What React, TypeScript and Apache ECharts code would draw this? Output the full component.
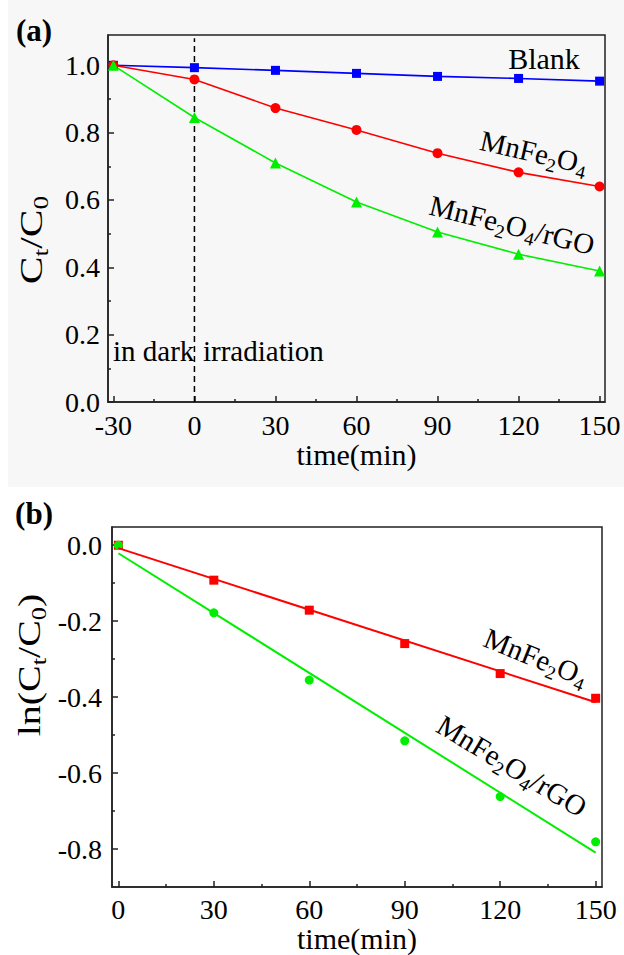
import React, { useEffect, useRef } from 'react';
import * as echarts from 'echarts';

const SERIF = 'Liberation Serif';

// (a) normalised concentration: 30 min in the dark, then under irradiation
const timeA = [-30, 0, 30, 60, 90, 120, 150];
const blankA = [1.0, 0.993, 0.985, 0.976, 0.967, 0.961, 0.953];
const mnfeA = [1.0, 0.958, 0.873, 0.808, 0.739, 0.682, 0.64];
const rgoA = [1.0, 0.845, 0.71, 0.594, 0.505, 0.439, 0.389];

// (b) pseudo-first-order kinetics, ln(Ct/C0) against irradiation time
const timeB = [0, 30, 60, 90, 120, 150];
const lnMnfeB = [0, -0.092, -0.171, -0.259, -0.338, -0.403];
const lnRgoB = [0, -0.178, -0.355, -0.515, -0.662, -0.781];

// tick positions
const ticksXA = [-30, 0, 30, 60, 90, 120, 150];
const minorXA = [-15, 15, 45, 75, 105, 135];
const ticksYA = [0, 0.2, 0.4, 0.6, 0.8, 1.0];
const minorYA = [0.1, 0.3, 0.5, 0.7, 0.9];
const ticksXB = [0, 30, 60, 90, 120, 150];
const minorXB = [15, 45, 75, 105, 135];
const ticksYB = [-0.8, -0.6, -0.4, -0.2, 0];
const minorYB = [-0.7, -0.5, -0.3, -0.1];

const BLUE = '#0000ff';
const RED = '#ff0000';
const GREEN = '#00ee00';
const AXIS = '#222';

// least-squares straight line through the points, spanning the first to last x
function linearFit(xs: number[], ys: number[]): number[][] {
  const n = xs.length;
  const mx = xs.reduce((a, b) => a + b, 0) / n;
  const my = ys.reduce((a, b) => a + b, 0) / n;
  let sxy = 0;
  let sxx = 0;
  for (let i = 0; i < n; i++) {
    sxy += (xs[i] - mx) * (ys[i] - my);
    sxx += (xs[i] - mx) * (xs[i] - mx);
  }
  const slope = sxy / sxx;
  const icpt = my - slope * mx;
  const x0 = xs[0];
  const x1 = xs[n - 1];
  return [
    [x0, icpt + slope * x0],
    [x1, icpt + slope * x1],
  ];
}

const pairs = (xs: number[], ys: number[]) => xs.map((x, i) => [x, ys[i]]);

function majorAxis(
  gridIndex: number,
  min: number,
  max: number,
  ticks: number[],
  fmt: (v: number) => string,
  margin: number,
  position: string,
  extra: any = {}
) {
  return {
    type: 'value',
    gridIndex,
    min,
    max,
    position,
    axisLine: { show: true, onZero: false, lineStyle: { color: AXIS, width: 1.5 } },
    axisTick: {
      show: true,
      inside: true,
      length: 6,
      customValues: ticks,
      lineStyle: { color: AXIS, width: 1.5 },
    },
    axisLabel: {
      show: true,
      customValues: ticks,
      formatter: fmt,
      margin,
      color: '#000',
      fontSize: 28,
      fontFamily: SERIF,
    },
    splitLine: { show: false },
    ...extra,
  };
}

function minorAxis(gridIndex: number, min: number, max: number, ticks: number[], position: string) {
  return {
    type: 'value',
    gridIndex,
    min,
    max,
    position,
    axisLine: { show: false, onZero: false },
    axisTick: {
      show: true,
      inside: true,
      length: 3,
      customValues: ticks,
      lineStyle: { color: AXIS, width: 1.5 },
    },
    axisLabel: { show: false },
    splitLine: { show: false },
  };
}

const intFmt = (v: number) => String(Math.round(v));
const decFmt = (v: number) => v.toFixed(1);

const mainRich = (size: number) => ({
  m: { fontSize: size, fontFamily: SERIF, fontWeight: 'normal', lineHeight: size + 1, color: '#000' },
  s: {
    fontSize: Math.round(size * 0.65),
    fontFamily: SERIF,
    fontWeight: 'normal',
    lineHeight: Math.round(size * 0.65),
    padding: [Math.round(size * 0.62), 0, 0, 0],
    color: '#000',
  },
});

function richLabel(x: number, y: number, text: string, deg: number, size = 29, scaleX = 1) {
  return {
    type: 'text',
    x,
    y,
    rotation: (deg * Math.PI) / 180,
    scaleX,
    style: {
      text,
      rich: mainRich(size),
      fontFamily: SERIF,
      fontSize: size,
      fontWeight: 'normal',
      align: 'center',
      verticalAlign: 'middle',
      fill: '#000',
    },
    z: 10,
  };
}

function plainLabel(x: number, y: number, text: string, align: string, size = 29, bold = false) {
  return {
    type: 'text',
    x,
    y,
    style: {
      text,
      fontSize: size,
      fontFamily: SERIF,
      fontWeight: bold ? 'bold' : 'normal',
      align,
      verticalAlign: 'middle',
      fill: '#000',
    },
    z: 10,
  };
}

const MNFE = '{m|MnFe}{s|2}{m|O}{s|4}';
const MNFE_RGO = '{m|MnFe}{s|2}{m|O}{s|4}{m|/rGO}';

export default function App() {
  const ref = useRef<HTMLDivElement>(null);

  useEffect(() => {
    document.body.style.margin = '0';
    if (!ref.current) return;
    const chart = echarts.init(ref.current, undefined, { renderer: 'svg' });

    const fitMnfe = linearFit(timeB, lnMnfeB);
    const fitRgo = linearFit(timeB, lnRgoB);

    const option: any = {
      animation: false,
      backgroundColor: '#fff',
      textStyle: { fontFamily: SERIF },
      grid: [
        { left: 108, top: 35, width: 497, height: 367, show: true, borderColor: AXIS, borderWidth: 1.5, backgroundColor: 'transparent' },
        { left: 112, top: 527, width: 490, height: 360, show: true, borderColor: AXIS, borderWidth: 1.5, backgroundColor: 'transparent' },
      ],
      xAxis: [
        majorAxis(0, -32, 152, ticksXA, intFmt, 9, 'bottom', {
          name: 'time(min)',
          nameLocation: 'middle',
          nameGap: 34,
          nameTextStyle: { fontSize: 30, fontFamily: SERIF, color: '#000' },
        }),
        minorAxis(0, -32, 152, minorXA, 'bottom'),
        majorAxis(1, -2, 152, ticksXB, intFmt, 8, 'bottom', {
          name: 'time(min)',
          nameLocation: 'middle',
          nameGap: 30,
          nameTextStyle: { fontSize: 30, fontFamily: SERIF, color: '#000' },
        }),
        minorAxis(1, -2, 152, minorXB, 'bottom'),
      ],
      yAxis: [
        majorAxis(0, 0, 1.09, ticksYA, decFmt, 8, 'left'),
        minorAxis(0, 0, 1.09, minorYA, 'left'),
        majorAxis(1, -0.9, 0.048, ticksYB, decFmt, 10, 'left'),
        minorAxis(1, -0.9, 0.048, minorYB, 'left'),
      ],
      series: [
        {
          name: 'divider',
          type: 'line',
          xAxisIndex: 0,
          yAxisIndex: 0,
          data: [
            [0, 0],
            [0, 1.08],
          ],
          symbol: 'none',
          lineStyle: { color: '#000', width: 1.5, type: [6, 4] },
          z: 1,
        },
        {
          name: 'Blank',
          type: 'line',
          xAxisIndex: 0,
          yAxisIndex: 0,
          data: pairs(timeA, blankA),
          symbol: 'rect',
          symbolSize: 9,
          itemStyle: { color: BLUE },
          lineStyle: { color: BLUE, width: 1.6 },
        },
        {
          name: 'MnFe2O4',
          type: 'line',
          xAxisIndex: 0,
          yAxisIndex: 0,
          data: pairs(timeA, mnfeA),
          symbol: 'circle',
          symbolSize: 10,
          itemStyle: { color: RED },
          lineStyle: { color: RED, width: 1.6 },
        },
        {
          name: 'MnFe2O4/rGO',
          type: 'line',
          xAxisIndex: 0,
          yAxisIndex: 0,
          data: pairs(timeA, rgoA),
          symbol: 'triangle',
          symbolSize: 11,
          itemStyle: { color: GREEN },
          lineStyle: { color: GREEN, width: 1.6 },
        },
        {
          name: 'MnFe2O4 fit',
          type: 'line',
          xAxisIndex: 2,
          yAxisIndex: 2,
          data: fitMnfe,
          symbol: 'none',
          lineStyle: { color: RED, width: 2 },
        },
        {
          name: 'MnFe2O4/rGO fit',
          type: 'line',
          xAxisIndex: 2,
          yAxisIndex: 2,
          data: fitRgo,
          symbol: 'none',
          lineStyle: { color: GREEN, width: 2 },
        },
        {
          name: 'MnFe2O4 ln',
          type: 'scatter',
          xAxisIndex: 2,
          yAxisIndex: 2,
          data: pairs(timeB, lnMnfeB),
          symbol: 'rect',
          symbolSize: 9,
          itemStyle: { color: RED, opacity: 1 },
        },
        {
          name: 'MnFe2O4/rGO ln',
          type: 'scatter',
          xAxisIndex: 2,
          yAxisIndex: 2,
          data: pairs(timeB, lnRgoB),
          symbol: 'circle',
          symbolSize: 9,
          itemStyle: { color: GREEN, opacity: 1 },
        },
      ],
      graphic: {
        elements: [
          {
            type: 'rect',
            shape: { x: 8, y: 0, width: 616, height: 487 },
            style: { fill: '#f7f7f7' },
            z: -10,
            silent: true,
          },
          plainLabel(34, 30, '(a)', 'center', 31, true),
          plainLabel(34, 513, '(b)', 'center', 31, true),
          plainLabel(544, 58, 'Blank', 'center', 30),
          plainLabel(113, 351, 'in dark', 'left', 29),
          plainLabel(203, 351, 'irradiation', 'left', 29),
          richLabel(534, 152, MNFE, -13),
          richLabel(512, 225, MNFE_RGO, -14),
          richLabel(536, 657, MNFE, -22),
          richLabel(512, 766, MNFE_RGO, -31),
          richLabel(31, 240, '{m|C}{s|t}{m|/C}{s|0}', 90, 32, 1.3),
          richLabel(29, 665, '{m|ln(C}{s|t}{m|/C}{s|0}{m|)}', 90, 32, 1.25),
        ],
      },
    };

    chart.setOption(option);
    return () => chart.dispose();
  }, []);

  return (
    <div
      ref={ref}
      style={{ position: 'absolute', left: 0, top: 0, width: 624, height: 955 }}
    />
  );
}
